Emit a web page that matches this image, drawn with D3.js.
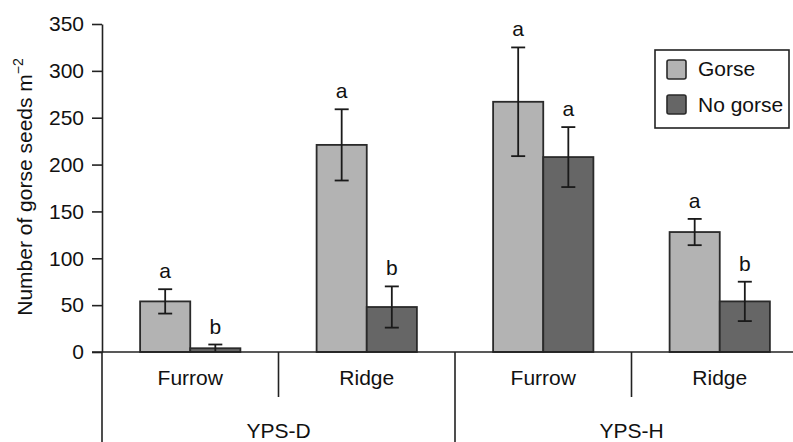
<!DOCTYPE html>
<html>
<head>
<meta charset="utf-8">
<script src="https://cdn.jsdelivr.net/npm/d3@7"></script>
<style>
    body { margin: 0; background: #fff; }
    svg { display: block; font-family: "Liberation Sans", Arial, sans-serif; }
</style>
</head>
<body>
<div id="chart"></div>
<script>
const groups = ["YPS-D", "YPS-H"];
const positions = ["Furrow", "Ridge"];
const series = ["Gorse", "No gorse"];

const gorseMean = [54, 221, 267, 128];
const gorseErr = [13, 38, 58, 14];
const noGorseMean = [4, 48, 208, 54];
const noGorseErr = [4, 22, 32, 21];
const gorseLetters = ["a", "a", "a", "a"];
const noGorseLetters = ["b", "b", "a", "b"];

const yTicks = [0, 50, 100, 150, 200, 250, 300, 350];

const colors = {"Gorse": "#b3b3b3", "No gorse": "#666666"};

const width = 793, height = 442;
const plotLeft = 102, plotRight = 808, plotTop = 24, plotBottom = 352;

// build categories (group x position)
const cats = [];
groups.forEach(g => positions.forEach(p => cats.push({group: g, pos: p, key: g + "|" + p})));

const rows = [];
cats.forEach((c, i) => {
    rows.push({key: c.key, s: "Gorse", v: gorseMean[i], e: gorseErr[i], l: gorseLetters[i]});
    rows.push({key: c.key, s: "No gorse", v: noGorseMean[i], e: noGorseErr[i], l: noGorseLetters[i]});
});

const svg = d3.select("#chart").append("svg")
    .attr("width", width)
    .attr("height", height);

const x0 = d3.scaleBand()
    .domain(cats.map(c => c.key))
    .range([plotLeft, plotRight])
    .padding(0);

const x1 = d3.scaleBand()
    .domain(series)
    .range([0, x0.bandwidth()])
    .paddingInner(0)
    .paddingOuter(0.76);

const y = d3.scaleLinear()
    .domain([0, 350])
    .range([plotBottom, plotTop]);

// y axis
const yAxis = svg.append("g")
    .attr("transform", `translate(${plotLeft},0)`)
    .call(d3.axisLeft(y).tickValues(yTicks).tickSize(10).tickSizeOuter(0).tickPadding(8));
yAxis.select(".domain").attr("stroke", "#222").attr("stroke-width", 1.6);
yAxis.selectAll(".tick line").attr("stroke", "#222").attr("stroke-width", 1.6);
yAxis.selectAll(".tick text")
    .attr("fill", "#111")
    .style("font-size", "21px")
    .style("font-family", "'Liberation Sans', Arial, sans-serif");

// y label
const yLabel = svg.append("text")
    .attr("transform", "translate(32,187) rotate(-90)")
    .attr("text-anchor", "middle")
    .attr("fill", "#111")
    .style("font-size", "21px");
yLabel.append("tspan").text("Number of gorse seeds m");
yLabel.append("tspan").attr("dy", -9).style("font-size", "14px").text("\u22122");

// bars
const bars = svg.append("g");
bars.selectAll("rect")
    .data(rows)
    .join("rect")
    .attr("x", d => x0(d.key) + x1(d.s))
    .attr("y", d => y(d.v))
    .attr("width", x1.bandwidth())
    .attr("height", d => y(0) - y(d.v))
    .attr("fill", d => colors[d.s])
    .attr("stroke", "#2a2a2a")
    .attr("stroke-width", 1.8);

// error bars
const err = svg.append("g")
    .attr("stroke", "#1a1a1a")
    .attr("stroke-width", 1.8);
const cx = d => x0(d.key) + x1(d.s) + x1.bandwidth() / 2;
err.selectAll("line.v")
    .data(rows)
    .join("line")
    .attr("class", "v")
    .attr("x1", cx).attr("x2", cx)
    .attr("y1", d => y(d.v + d.e))
    .attr("y2", d => y(Math.max(0, d.v - d.e)));
err.selectAll("line.top")
    .data(rows)
    .join("line")
    .attr("class", "top")
    .attr("x1", d => cx(d) - 7).attr("x2", d => cx(d) + 7)
    .attr("y1", d => y(d.v + d.e)).attr("y2", d => y(d.v + d.e));
err.selectAll("line.bot")
    .data(rows.filter(d => d.v - d.e > 0))
    .join("line")
    .attr("class", "bot")
    .attr("x1", d => cx(d) - 7).attr("x2", d => cx(d) + 7)
    .attr("y1", d => y(d.v - d.e)).attr("y2", d => y(d.v - d.e));

// significance letters
svg.append("g").selectAll("text")
    .data(rows)
    .join("text")
    .attr("x", cx)
    .attr("y", d => y(d.v + d.e) - 11)
    .attr("text-anchor", "middle")
    .attr("fill", "#111")
    .style("font-size", "21px")
    .text(d => d.l);

// x axis baseline and hierarchical category axis
const xa = svg.append("g").attr("stroke", "#222").attr("stroke-width", 1.6);
xa.append("line")
    .attr("x1", plotLeft - 10).attr("x2", plotRight)
    .attr("y1", y(0)).attr("y2", y(0));
// left edge continues down
xa.append("line")
    .attr("x1", plotLeft).attr("x2", plotLeft)
    .attr("y1", y(0)).attr("y2", height);
cats.forEach((c, i) => {
    if (i === 0) return;
    const xb = x0(c.key);
    const isGroupEdge = c.pos === positions[0];
    xa.append("line")
        .attr("x1", xb).attr("x2", xb)
        .attr("y1", y(0))
        .attr("y2", isGroupEdge ? height : y(0) + 45);
});

const lab = svg.append("g")
    .attr("text-anchor", "middle")
    .attr("fill", "#111")
    .style("font-size", "21px");
lab.selectAll("text.pos")
    .data(cats)
    .join("text")
    .attr("class", "pos")
    .attr("x", d => x0(d.key) + x0.bandwidth() / 2)
    .attr("y", y(0) + 33)
    .text(d => d.pos);
lab.selectAll("text.grp")
    .data(groups)
    .join("text")
    .attr("class", "grp")
    .attr("x", g => x0(g + "|" + positions[0]) + x0.bandwidth())
    .attr("y", y(0) + 86)
    .text(g => g);

// legend
const legend = svg.append("g").attr("transform", "translate(655,50)");
legend.append("rect")
    .attr("width", 134).attr("height", 78)
    .attr("fill", "#fff")
    .attr("stroke", "#222")
    .attr("stroke-width", 1.6);
series.forEach((s, i) => {
    legend.append("rect")
        .attr("x", 12).attr("y", 10 + i * 35)
        .attr("width", 19).attr("height", 19)
        .attr("rx", 2)
        .attr("fill", colors[s])
        .attr("stroke", "#2a2a2a")
        .attr("stroke-width", 1.6);
    legend.append("text")
        .attr("x", 43).attr("y", 26 + i * 36)
        .attr("fill", "#111")
        .style("font-size", "21px")
        .text(s);
});
</script>
</body>
</html>
